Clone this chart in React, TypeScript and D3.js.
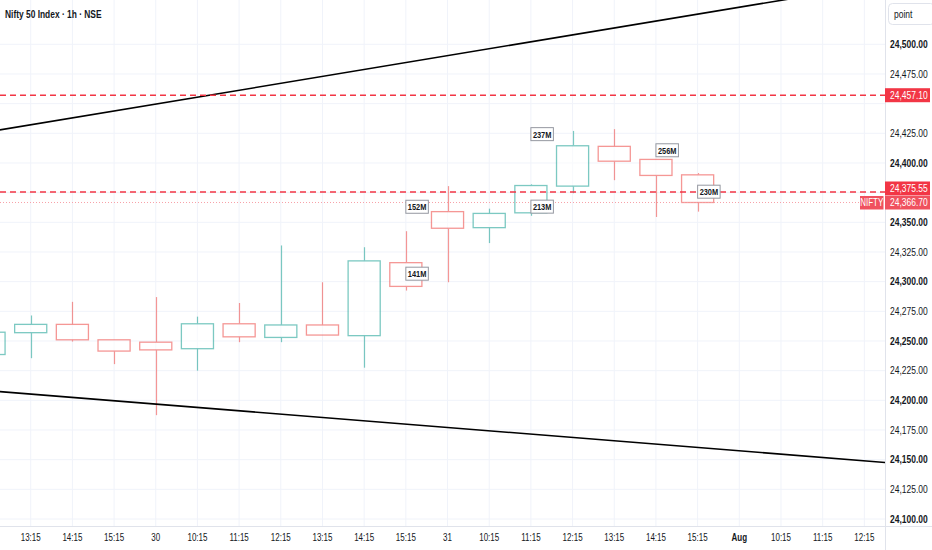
import * as d3 from 'd3'

// ---- data (Nifty 50, 1h) ----
const timeLabels = ['12:15', '13:15', '14:15', '15:15', '30', '10:15', '11:15', '12:15', '13:15', '14:15', '15:15', '31', '10:15', '11:15', '12:15', '13:15', '14:15', '15:15', 'Aug', '10:15', '11:15', '12:15']
const boldTimeLabels = ['Aug']

const opens  = [24238.6, 24257, 24264, 24251, 24249, 24243.5, 24264.5, 24253, 24263.5, 24254.5, 24316, 24359, 24345.5, 24358, 24380.5, 24414, 24403, 24390]
const highs  = [24262, 24271.5, 24283, 24251, 24287, 24270.5, 24282, 24330.5, 24299.5, 24329, 24342.5, 24380.5, 24361.5, 24382, 24427, 24428.5, 24403, 24391.5]
const lows   = [24232, 24235.5, 24249.5, 24230.5, 24187.5, 24225, 24249, 24249, 24255, 24227.5, 24292.5, 24299.5, 24332.5, 24355.5, 24374.5, 24385.5, 24354.5, 24359]
const closes = [24257.4, 24264, 24251, 24241.5, 24242.5, 24264.5, 24253.5, 24263.5, 24255, 24317.5, 24296, 24345, 24357.5, 24381, 24414.5, 24401.5, 24389.5, 24366.7]

// volume callouts: text, bar they hang from, price level
const volTexts  = ['152M', '141M', '213M', '237M', '256M', '230M']
const volBars   = [10, 10, 13, 13, 16, 17]
const volPrices = [24363.1, 24306.7, 24363.2, 24424.3, 24410.7, 24375.8]

// trend lines as [barIndex, price] pairs
const upperTrend: [number, number][] = [[-1, 24420.5], [22, 24554.5]]
const lowerTrend: [number, number][] = [[-1, 24210.85], [22, 24146.2]]

const levelPrices = [24457.1, 24375.55]
const lastPrice = 24366.7
const priceTicks = d3.range(24100, 24501, 25)

const W = 932
const H = 550
const PLOT_R = 885
const PLOT_B = 526

const UP = '#26a69a'
const DOWN = '#ef5350'
const RED = '#f23645'
const TEXT = '#131722'
const GRID = '#f0f3fa'
const FONT = "'Liberation Sans', Arial, sans-serif"

const fmt = d3.format(',.2f')

function Txt({ x, y, sx = 0.82, anchor = 'start', size = 10, weight = 400, fill = TEXT, children }: {
  x: number; y: number; sx?: number; anchor?: string; size?: number; weight?: number; fill?: string; children: string
}) {
  return (
    <text
      transform={`translate(${x},${y}) scale(${sx},1)`}
      textAnchor={anchor}
      fontFamily={FONT}
      fontSize={size}
      fontWeight={weight}
      fill={fill}
    >
      {children}
    </text>
  )
}

export default function App() {
  const x = d3.scaleLinear().domain([1, 18]).range([30.7, 739.3])
  const y = d3.scaleLinear().domain([24100, 24500]).range([519, 44.3])
  const step = x(1) - x(0)
  const bodyW = step * 0.77

  const line = d3.line<[number, number]>().x(d => x(d[0])).y(d => y(d[1]))

  const lastY = y(lastPrice)
  // TradingView nudges overlapping axis labels apart
  const levelLabelY = levelPrices.map(p => (y(p) > lastY - 14 ? lastY - 14 : y(p)))
  const coveredYs = [...levelLabelY, lastY]
  const visibleTicks = priceTicks.filter(p => coveredYs.every(cy => Math.abs(y(p) - cy) > 10))

  return (
    <div style={{ position: 'absolute', left: 0, top: 0 }}>
      <svg width={W} height={H} style={{ display: 'block', background: '#fff' }}>
        <defs>
          <clipPath id="plot">
            <rect x={0} y={0} width={PLOT_R} height={PLOT_B} />
          </clipPath>
        </defs>

        {/* grid */}
        <g>
          {timeLabels.map((_, i) => (
            <line key={'vg' + i} x1={x(i)} x2={x(i)} y1={0} y2={PLOT_B} stroke={GRID} strokeWidth={1} />
          ))}
          {priceTicks.map(p => (
            <line key={'hg' + p} x1={0} x2={PLOT_R} y1={y(p)} y2={y(p)} stroke={GRID} strokeWidth={1} />
          ))}
        </g>

        <g clipPath="url(#plot)">
          {/* candles, hollow */}
          {opens.map((o, i) => {
            const c = closes[i]
            const col = c >= o ? UP : DOWN
            const top = y(Math.max(o, c))
            const bot = y(Math.min(o, c))
            const cx = Math.round(x(i)) + 0.5
            return (
              <g key={'c' + i} opacity={0.6}>
                <line x1={cx} x2={cx} y1={y(highs[i])} y2={top} stroke={col} strokeWidth={1.2} />
                <line x1={cx} x2={cx} y1={bot} y2={y(lows[i])} stroke={col} strokeWidth={1.2} />
                <rect x={x(i) - bodyW / 2} y={top} width={bodyW} height={Math.max(1, bot - top)}
                  fill="#fff" stroke={col} strokeWidth={1.3} />
              </g>
            )
          })}

          {/* trend lines */}
          <path d={line(upperTrend) ?? ''} fill="none" stroke="#000" strokeWidth={1.6} />
          <path d={line(lowerTrend) ?? ''} fill="none" stroke="#000" strokeWidth={1.6} />

          {/* horizontal levels */}
          {levelPrices.map(p => (
            <line key={'lv' + p} x1={0} x2={PLOT_R} y1={y(p)} y2={y(p)} stroke={RED} strokeWidth={1.5} strokeDasharray="6 4" />
          ))}
          <line x1={0} x2={860} y1={lastY} y2={lastY} stroke="#f7a1a8" strokeWidth={1} strokeDasharray="1 2" />

          {/* volume callouts */}
          {volTexts.map((t, k) => {
            const bx = x(volBars[k])
            const by = y(volPrices[k])
            return (
              <g key={'v' + k}>
                <rect x={bx} y={by - 6.5} width={22.5} height={13} fill="#fff" stroke="#9598a1" strokeWidth={1} />
                <Txt x={bx + 11.25} y={by + 3.4} anchor="middle" size={9.5} weight={700} sx={0.78}>{t}</Txt>
              </g>
            )
          })}
        </g>

        {/* axes separators */}
        <line x1={PLOT_R + 0.5} x2={PLOT_R + 0.5} y1={0} y2={H} stroke="#e0e3eb" strokeWidth={1} />
        <line x1={0} x2={W} y1={PLOT_B + 0.5} y2={PLOT_B + 0.5} stroke="#e0e3eb" strokeWidth={1} />

        {/* price axis */}
        {visibleTicks.map(p => (
          <Txt key={'pt' + p} x={890} y={y(p) + 3.6} sx={0.85} weight={p % 50 === 0 ? 700 : 400}>{fmt(p)}</Txt>
        ))}

        {/* time axis */}
        {timeLabels.map((t, i) => (
          x(i) > 5 && x(i) < PLOT_R - 5 ? (
            <Txt key={'tt' + i} x={x(i)} y={541} anchor="middle" sx={0.8}
              weight={boldTimeLabels.includes(t) ? 700 : 400}>{t}</Txt>
          ) : null
        ))}

        {/* axis price labels */}
        {levelPrices.map((p, k) => (
          <g key={'pl' + p}>
            <rect x={PLOT_R} y={levelLabelY[k] - 7} width={45} height={14} fill={RED} />
            <Txt x={890} y={levelLabelY[k] + 3.6} sx={0.85} fill="#fff">{fmt(p)}</Txt>
          </g>
        ))}
        <rect x={PLOT_R} y={lastY - 6.5} width={45} height={13.5} fill="#f0515e" />
        <Txt x={890} y={lastY + 3.6} sx={0.85} fill="#fff">{fmt(lastPrice)}</Txt>
        <rect x={860} y={lastY - 6.5} width={23.5} height={13.5} fill="#f0515e" />
        <Txt x={871.7} y={lastY + 3.6} anchor="middle" sx={0.8} fill="#fff">NIFTY</Txt>

        {/* unit box */}
        <rect x={888.5} y={3.5} width={46} height={21} rx={4} fill="#fff" stroke="#e0e3eb" />
        <Txt x={894} y={17.5} sx={0.85}>point</Txt>

        {/* title */}
        <Txt x={5} y={18} size={10.5} weight={700} sx={0.8}>Nifty 50 Index · 1h · NSE</Txt>
      </svg>
    </div>
  )
}
